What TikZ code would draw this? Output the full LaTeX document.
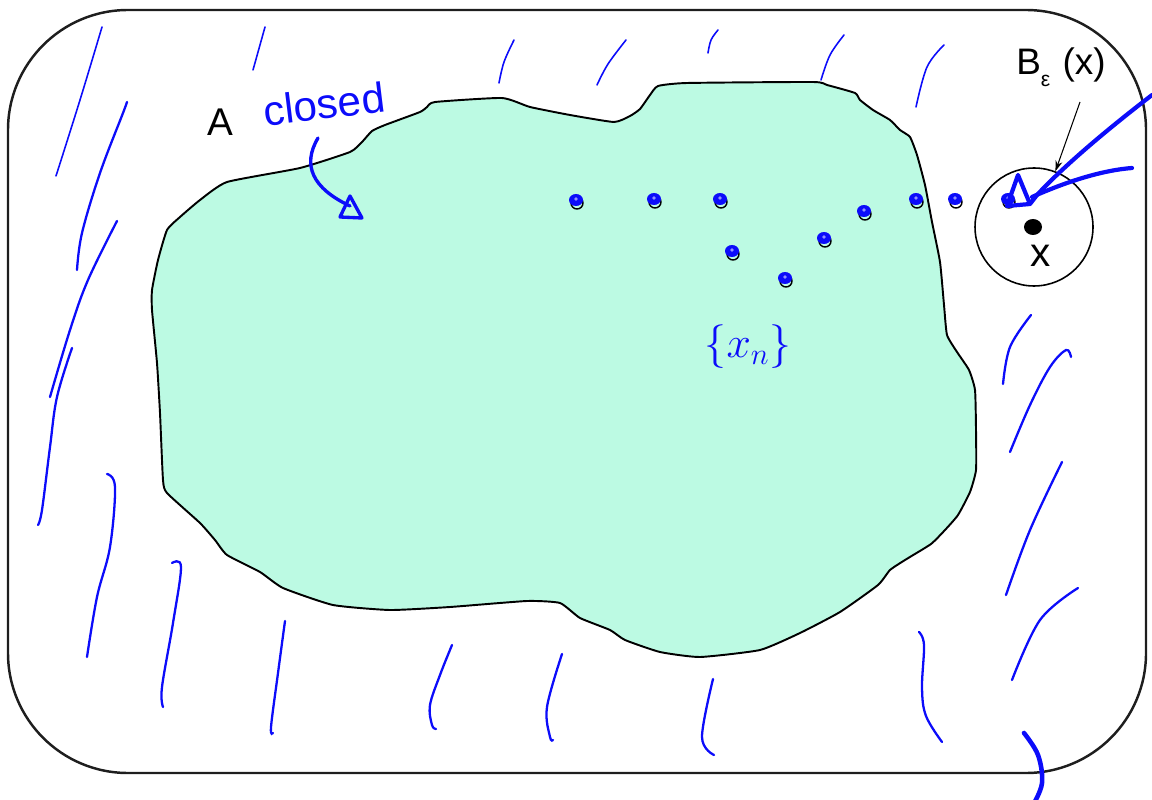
\documentclass[tikz,border=0pt]{standalone}
\usepackage{fontspec}
\setmainfont{Liberation Sans}
\usetikzlibrary{arrows.meta}
\definecolor{mint}{RGB}{188,250,227}
\definecolor{pen}{RGB}{12,12,250}
\definecolor{frame}{RGB}{30,30,30}
\begin{document}
\begin{tikzpicture}[x=0.02cm,y=-0.02cm,
  outline/.style={draw=black,line width=1.1pt,line join=round},
  hatch/.style={pen,line width=1.3pt,line cap=round},
  thinhatch/.style={pen,line width=0.9pt,line cap=round},
  scrib/.style={pen,line width=2.4pt,line cap=round,line join=round},
  seqpt/.style={circle,draw=black,line width=0.8pt,minimum size=0.24cm,inner sep=0pt},
  lab/.style={font=\fontsize{21}{25}\selectfont,inner sep=0pt}]
\useasboundingbox (0,0) rectangle (1152,800);

% the whole space
\draw[frame,line width=1.4pt,rounded corners=2.4cm] (8,10) rectangle (1146,773);

% hatching of the complement
\foreach \pts in {
  {(127,102) (123,113) (100,173) (82,233) (77,270)},
  {(117,221) (88,280) (70,330) (50,397)},
  {(72,348) (57,397) (50,447) (42,510) (38,525)},
  {(107,474) (115,487) (110,547) (97,597) (87,657)},
  {(172,563) (181,567) (173,623) (162,687) (163,707)},
  {(285,621) (278,673) (271,727) (273,733)},
  {(452,645) (440,675) (430,705) (432,725) (436,729)},
  {(562,654) (547,707) (550,737) (553,740)},
  {(713,679) (702,737) (714,755)},
  {(919,632) (924,645) (922,688) (926,716) (942,742)},
  {(1031,315) (1010,347) (1003,384)},
  {(1071,357) (1066,350) (1050,367) (1030,405) (1010,452)},
  {(1062,462) (1030,530) (1006,595)},
  {(1078,588) (1040,620) (1012,680)}}
  \draw[hatch] plot[smooth,tension=0.6] coordinates \pts;
\foreach \pts in {
  {(102,27) (80,100) (56,176)},
  {(265,27) (253,70)},
  {(514,40) (504,62) (499,83)},
  {(626,40) (608,64) (597,85)},
  {(718,30) (711,40) (708,53)},
  {(844,35) (830,55) (821,80)},
  {(944,45) (927,67) (916,107)}}
  \draw[thinhatch] plot[smooth,tension=0.6] coordinates \pts;
\draw[pen,line width=2.6pt,line cap=round] plot[smooth,tension=0.6]
  coordinates {(1024,733) (1038,755) (1042,783) (1033,805)};

% the closed set A
\draw[outline,fill=mint] plot[smooth cycle,tension=0.3] coordinates {
  (167,230) (180,217) (200,200) (227,182) (300,168) (350,152) (362,142)
  (372,131) (385,125) (420,112) (427,107) (435,102) (502,98) (530,107)
  (570,115) (614,122) (630,116) (640,109) (650,95) (658,86) (687,83)
  (813,82) (827,85) (855,93) (860,100) (873,110) (890,120) (900,130)
  (910,137) (917,155) (925,185) (932,222) (940,262) (944,305) (947,335)
  (957,352) (969,370) (975,390) (976,430) (976,470) (970,492) (958,515)
  (945,530) (931,544) (905,560) (890,570) (878,585) (840,612) (800,633)
  (760,650) (700,657) (660,652) (625,640) (610,630) (580,618) (560,603)
  (527,601) (450,607) (390,610) (333,605) (283,588) (260,572) (227,555)
  (215,540) (200,523) (167,493) (163,480) (160,413) (157,363) (152,310)
  (152,290) (158,260)};

% the sequence
\foreach \n/\x/\y in {1/577/203,2/655/202,3/721/202,4/733/254,5/786/281,
    6/825/241,7/865/214,8/917/202,9/956/202,10/1009/202} {
  \node[seqpt] (p\n) at (\x,\y) {};
  \fill[pen] (\x-1,\y-3) ellipse [x radius=7, y radius=6];
  \fill[white!55!pen] (\x-1,\y-4) circle [radius=1.8];
}

% the ball around x
\node[circle,draw=black,line width=0.9pt,minimum size=2.36cm,inner sep=0pt] (ball) at (1034,227) {};
\fill[black] (1033,227) ellipse [x radius=9, y radius=8];
\node[lab,font=\fontsize{23}{27}\selectfont] (xlab) at (1041,256) {x};

% labels
\node[lab,font=\fontsize{22}{26}\selectfont] (alab) at (220,122) {A};
\node[lab,anchor=base west] (blab) at (1016,75)
  {B\raisebox{-0.3em}{\fontsize{12}{12}\selectfont ε}\,\,(x)};
\coordinate (ptr) at (1080,102);
\draw[line width=0.6pt,-{Stealth[length=6pt,width=4pt]}] (ptr) -- (ball.69);

% handwritten notes
\node[text=pen,font=\fontsize{24}{28}\selectfont,rotate=7,inner sep=0pt] (closed) at (324,104) {closed};
\draw[scrib,line width=1.9pt] (318,138) .. controls (302,165) and (312,188) .. (350,206);
\draw[scrib,line width=1.9pt] (350,196) -- (340,217) -- (362,218) -- cycle;
\node[text=pen,font=\fontsize{24}{28}\selectfont,inner sep=0pt] (seq) at (748,347) {$\{x_n\}$};
\draw[scrib] (1152,95) .. controls (1100,135) and (1060,170) .. (1037,195)
  -- (1030,204) -- (1018,175) -- (1007,206) -- (1030,204);
\draw[scrib] (1032,197) .. controls (1070,180) and (1105,170) .. (1132,168);
\end{tikzpicture}
\end{document}
